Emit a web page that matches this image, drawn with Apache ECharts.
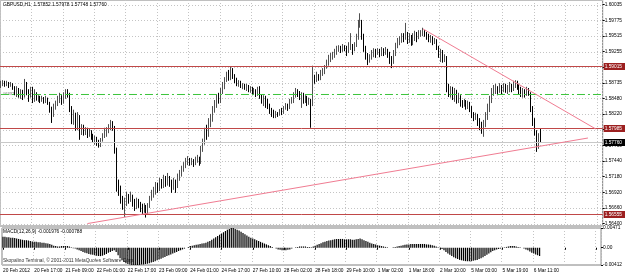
<!DOCTYPE html>
<html>
<head>
<meta charset="utf-8">
<script src="https://cdn.jsdelivr.net/npm/echarts@6/dist/echarts.min.js"></script>
<style>
html, body { margin: 0; padding: 0; background: #fff; }
#chart { width: 625px; height: 274px; }
</style>
</head>
<body>
<div id="chart"></div>
<script>
// GBPUSD H1, 20 Feb - 6 Mar 2012
const tickLabels = ['20 Feb 2012', '20 Feb 17:00', '21 Feb 09:00', '22 Feb 01:00', '22 Feb 17:00', '23 Feb 09:00',
  '24 Feb 01:00', '24 Feb 17:00', '27 Feb 10:00', '28 Feb 02:00', '28 Feb 18:00', '29 Feb 10:00',
  '1 Mar 02:00', '1 Mar 18:00', '2 Mar 10:00', '5 Mar 03:00', '5 Mar 19:00', '6 Mar 11:00'];

const firstOpen = 1.5870;
const closes = [
  1.5872, 1.5875, 1.5870, 1.5873, 1.5868, 1.5872, 1.5865, 1.5858, 1.5862, 1.5853,
  1.5857, 1.5850, 1.5868, 1.5858, 1.5852, 1.5862, 1.5844, 1.5855, 1.5847, 1.5850,
  1.5845, 1.5849, 1.5844, 1.5847, 1.5840, 1.5829, 1.5822, 1.5832, 1.5839, 1.5845,
  1.5850, 1.5844, 1.5853, 1.5858, 1.5857, 1.5832, 1.5812, 1.5819, 1.5799, 1.5815,
  1.5795, 1.5800, 1.5792, 1.5795, 1.5789, 1.5794, 1.5786, 1.5779, 1.5781, 1.5774,
  1.5771, 1.5779, 1.5786, 1.5789, 1.5795, 1.5799, 1.5805, 1.5799, 1.5762, 1.5704,
  1.5696, 1.5679, 1.5671, 1.5674, 1.5686, 1.5679, 1.5684, 1.5674, 1.5669, 1.5678,
  1.5673, 1.5666, 1.5663, 1.5668, 1.5659, 1.5669, 1.5681, 1.5688, 1.5693, 1.5703,
  1.5698, 1.5709, 1.5704, 1.5713, 1.5706, 1.5716, 1.5708, 1.5701, 1.5709, 1.5703,
  1.5716, 1.5723, 1.5729, 1.5736, 1.5742, 1.5746, 1.5741, 1.5744, 1.5739, 1.5746,
  1.5749, 1.5742, 1.5762, 1.5774, 1.5792, 1.5787, 1.5805, 1.5812, 1.5829, 1.5835,
  1.5849, 1.5844, 1.5858, 1.5868, 1.5878, 1.5885, 1.5882, 1.5892, 1.5887, 1.5878,
  1.5872, 1.5875, 1.5868, 1.5870, 1.5865, 1.5868, 1.5862, 1.5865, 1.5858, 1.5862,
  1.5855, 1.5860, 1.5852, 1.5845, 1.5849, 1.5840, 1.5837, 1.5829, 1.5822, 1.5819,
  1.5824, 1.5820, 1.5827, 1.5825, 1.5832, 1.5835, 1.5832, 1.5842, 1.5845, 1.5852,
  1.5860, 1.5855, 1.5850, 1.5853, 1.5845, 1.5849, 1.5840, 1.5844, 1.5839, 1.5882,
  1.5878, 1.5885, 1.5880, 1.5888, 1.5892, 1.5898, 1.5905, 1.5912, 1.5915, 1.5918,
  1.5923, 1.5928, 1.5931, 1.5926, 1.5933, 1.5930, 1.5925, 1.5931, 1.5936, 1.5928,
  1.5935, 1.5948, 1.5971, 1.5975, 1.5951, 1.5931, 1.5918, 1.5912, 1.5915, 1.5920,
  1.5925, 1.5921, 1.5926, 1.5923, 1.5928, 1.5923, 1.5926, 1.5921, 1.5912, 1.5908,
  1.5921, 1.5935, 1.5941, 1.5945, 1.5951, 1.5948, 1.5955, 1.5945, 1.5950, 1.5941,
  1.5948, 1.5953, 1.5950, 1.5955, 1.5956, 1.5960, 1.5955, 1.5951, 1.5948, 1.5950,
  1.5943, 1.5945, 1.5933, 1.5921, 1.5925, 1.5915, 1.5916, 1.5865, 1.5858, 1.5862,
  1.5852, 1.5855, 1.5847, 1.5850, 1.5842, 1.5839, 1.5842, 1.5835, 1.5840, 1.5832,
  1.5822, 1.5815, 1.5820, 1.5809, 1.5802, 1.5799, 1.5805, 1.5815, 1.5829, 1.5845,
  1.5858, 1.5862, 1.5865, 1.5860, 1.5867, 1.5863, 1.5868, 1.5862, 1.5865, 1.5868,
  1.5863, 1.5872, 1.5873, 1.5868, 1.5862, 1.5855, 1.5858, 1.5853, 1.5862, 1.5858,
  1.5832, 1.5812, 1.5792, 1.5769, 1.57852, 1.57760
];
const highs = [
  1.5877, 1.5878, 1.5877, 1.5877, 1.5875, 1.5875, 1.5873, 1.5868, 1.5868, 1.5865,
  1.5863, 1.5862, 1.5880, 1.5875, 1.5863, 1.5867, 1.5867, 1.5863, 1.5858, 1.5853,
  1.5852, 1.5852, 1.5850, 1.5852, 1.5849, 1.5842, 1.5834, 1.5839, 1.5844, 1.5852,
  1.5857, 1.5853, 1.5858, 1.5863, 1.5863, 1.5857, 1.5835, 1.5829, 1.5824, 1.5825,
  1.5820, 1.5805, 1.5804, 1.5800, 1.5799, 1.5797, 1.5795, 1.5789, 1.5786, 1.5784,
  1.5779, 1.5782, 1.5790, 1.5799, 1.5800, 1.5805, 1.5812, 1.5810, 1.5802, 1.5766,
  1.5713, 1.5703, 1.5686, 1.5683, 1.5693, 1.5689, 1.5693, 1.5688, 1.5681, 1.5683,
  1.5681, 1.5676, 1.5673, 1.5674, 1.5671, 1.5674, 1.5686, 1.5696, 1.5701, 1.5709,
  1.5708, 1.5716, 1.5714, 1.5721, 1.5719, 1.5724, 1.5719, 1.5713, 1.5716, 1.5713,
  1.5723, 1.5729, 1.5736, 1.5742, 1.5749, 1.5752, 1.5749, 1.5749, 1.5747, 1.5751,
  1.5754, 1.5751, 1.5769, 1.5781, 1.5799, 1.5804, 1.5815, 1.5822, 1.5835, 1.5845,
  1.5855, 1.5857, 1.5865, 1.5875, 1.5883, 1.5892, 1.5895, 1.5900, 1.5898, 1.5888,
  1.5882, 1.5878, 1.5877, 1.5873, 1.5872, 1.5872, 1.5870, 1.5868, 1.5867, 1.5865,
  1.5863, 1.5867, 1.5868, 1.5855, 1.5853, 1.5852, 1.5847, 1.5839, 1.5832, 1.5829,
  1.5827, 1.5825, 1.5830, 1.5832, 1.5835, 1.5840, 1.5839, 1.5847, 1.5850, 1.5858,
  1.5865, 1.5863, 1.5860, 1.5858, 1.5857, 1.5853, 1.5852, 1.5849, 1.5847, 1.5902,
  1.5887, 1.5892, 1.5888, 1.5895, 1.5898, 1.5903, 1.5912, 1.5920, 1.5923, 1.5925,
  1.5930, 1.5935, 1.5936, 1.5935, 1.5938, 1.5936, 1.5935, 1.5941, 1.5956, 1.5938,
  1.5941, 1.5955, 1.5978, 1.5989, 1.5978, 1.5955, 1.5935, 1.5923, 1.5921, 1.5928,
  1.5931, 1.5930, 1.5931, 1.5930, 1.5933, 1.5931, 1.5933, 1.5930, 1.5925, 1.5918,
  1.5928, 1.5940, 1.5948, 1.5951, 1.5956, 1.5956, 1.5973, 1.5958, 1.5956, 1.5953,
  1.5956, 1.5960, 1.5958, 1.5961, 1.5961, 1.5965, 1.5961, 1.5958, 1.5955, 1.5953,
  1.5951, 1.5948, 1.5946, 1.5935, 1.5930, 1.5928, 1.5921, 1.5918, 1.5872, 1.5868,
  1.5867, 1.5865, 1.5862, 1.5857, 1.5853, 1.5845, 1.5847, 1.5845, 1.5844, 1.5842,
  1.5835, 1.5825, 1.5824, 1.5822, 1.5815, 1.5809, 1.5812, 1.5825, 1.5839, 1.5852,
  1.5865, 1.5870, 1.5872, 1.5868, 1.5873, 1.5870, 1.5873, 1.5872, 1.5870, 1.5875,
  1.5872, 1.5877, 1.5878, 1.5877, 1.5872, 1.5867, 1.5865, 1.5863, 1.5867, 1.5865,
  1.5858, 1.5835, 1.5815, 1.5795, 1.5790, 1.57978
];
const lows = [
  1.5865, 1.5868, 1.5867, 1.5868, 1.5865, 1.5867, 1.5862, 1.5853, 1.5850, 1.5849,
  1.5847, 1.5845, 1.5849, 1.5853, 1.5842, 1.5849, 1.5840, 1.5842, 1.5844, 1.5842,
  1.5840, 1.5842, 1.5839, 1.5840, 1.5837, 1.5824, 1.5807, 1.5817, 1.5829, 1.5835,
  1.5840, 1.5837, 1.5839, 1.5847, 1.5849, 1.5825, 1.5805, 1.5804, 1.5794, 1.5795,
  1.5779, 1.5787, 1.5786, 1.5787, 1.5782, 1.5784, 1.5779, 1.5774, 1.5771, 1.5769,
  1.5766, 1.5767, 1.5776, 1.5782, 1.5784, 1.5790, 1.5795, 1.5794, 1.5756, 1.5693,
  1.5686, 1.5673, 1.5663, 1.5651, 1.5669, 1.5673, 1.5676, 1.5668, 1.5661, 1.5664,
  1.5666, 1.5659, 1.5656, 1.5658, 1.5650, 1.5655, 1.5666, 1.5678, 1.5683, 1.5688,
  1.5691, 1.5694, 1.5698, 1.5699, 1.5701, 1.5703, 1.5701, 1.5691, 1.5696, 1.5691,
  1.5699, 1.5711, 1.5718, 1.5726, 1.5732, 1.5737, 1.5736, 1.5737, 1.5734, 1.5737,
  1.5741, 1.5736, 1.5739, 1.5759, 1.5771, 1.5779, 1.5784, 1.5800, 1.5809, 1.5824,
  1.5832, 1.5839, 1.5840, 1.5855, 1.5863, 1.5875, 1.5877, 1.5878, 1.5880, 1.5873,
  1.5868, 1.5867, 1.5865, 1.5863, 1.5862, 1.5860, 1.5858, 1.5857, 1.5853, 1.5855,
  1.5850, 1.5852, 1.5847, 1.5839, 1.5835, 1.5832, 1.5830, 1.5822, 1.5817, 1.5815,
  1.5815, 1.5817, 1.5819, 1.5820, 1.5822, 1.5829, 1.5827, 1.5830, 1.5839, 1.5840,
  1.5849, 1.5850, 1.5845, 1.5832, 1.5839, 1.5840, 1.5835, 1.5837, 1.5799, 1.5835,
  1.5872, 1.5875, 1.5877, 1.5878, 1.5885, 1.5888, 1.5897, 1.5902, 1.5908, 1.5912,
  1.5915, 1.5920, 1.5925, 1.5923, 1.5925, 1.5926, 1.5918, 1.5923, 1.5928, 1.5920,
  1.5926, 1.5933, 1.5945, 1.5965, 1.5945, 1.5925, 1.5912, 1.5903, 1.5907, 1.5912,
  1.5916, 1.5915, 1.5920, 1.5916, 1.5918, 1.5918, 1.5920, 1.5915, 1.5905, 1.5898,
  1.5905, 1.5918, 1.5931, 1.5936, 1.5940, 1.5941, 1.5945, 1.5938, 1.5940, 1.5935,
  1.5936, 1.5943, 1.5941, 1.5946, 1.5950, 1.5951, 1.5950, 1.5945, 1.5941, 1.5940,
  1.5936, 1.5938, 1.5928, 1.5915, 1.5908, 1.5907, 1.5908, 1.5858, 1.5850, 1.5849,
  1.5845, 1.5842, 1.5839, 1.5840, 1.5834, 1.5832, 1.5834, 1.5829, 1.5830, 1.5825,
  1.5815, 1.5810, 1.5812, 1.5802, 1.5795, 1.5789, 1.5784, 1.5800, 1.5812, 1.5825,
  1.5840, 1.5852, 1.5855, 1.5853, 1.5857, 1.5855, 1.5858, 1.5857, 1.5855, 1.5858,
  1.5858, 1.5860, 1.5865, 1.5862, 1.5855, 1.5850, 1.5849, 1.5849, 1.5852, 1.5852,
  1.5825, 1.5802, 1.5786, 1.5759, 1.5764, 1.57748
];

// MACD(12,26,9) histogram
const macdHist = [
  0.0026, 0.0026, 0.0025, 0.0025, 0.0024, 0.0024, 0.0023,
  0.0022, 0.0021, 0.0020, 0.0019, 0.0018, 0.0018, 0.0017,
  0.0016, 0.0015, 0.0014, 0.0014, 0.0013, 0.0013, 0.0012, 0.0012,
  0.0011, 0.0010, 0.0009, 0.0007, 0.0005,
  0.0004,
  0.0003, 0.0003, 0.0004, 0.0004, 0.0004,
  0.0004, 0.0003,
  0.0001, -0.0001, -0.0002, -0.0004,
  -0.0006, -0.0008, -0.0010, -0.0012, -0.0013, -0.0015, -0.0016, -0.0017, -0.0018, -0.0019, -0.0020, -0.0020,
  -0.0019, -0.0017, -0.0015, -0.0012, -0.0010, -0.0008, -0.0006,
  -0.0010, -0.0018, -0.0025, -0.0030, -0.0034, -0.0037, -0.0039, -0.0040, -0.0041, -0.0041,
  -0.0041, -0.0041, -0.0041, -0.0040, -0.0040, -0.0039, -0.0038, -0.0037, -0.0035, -0.0034,
  -0.0032, -0.0030, -0.0028, -0.0026, -0.0024, -0.0022, -0.0020, -0.0018, -0.0016, -0.0014, -0.0012, -0.0010,
  -0.0008, -0.0006, -0.0004, -0.0002, 0.0000,
  0.0002, 0.0004, 0.0005, 0.0006, 0.0007, 0.0008, 0.0009, 0.0010, 0.0011, 0.0012, 0.0014, 0.0016,
  0.0019, 0.0022, 0.0025, 0.0028, 0.0031, 0.0034, 0.0037, 0.0040, 0.0043, 0.0045, 0.0047,
  0.0047, 0.0045, 0.0043, 0.0041, 0.0038, 0.0035, 0.0032, 0.0029, 0.0026,
  0.0024, 0.0022, 0.0020, 0.0018, 0.0016, 0.0014, 0.0012, 0.0010, 0.0008, 0.0006, 0.0004, 0.0002, 0.0000, -0.0002,
  -0.0004, -0.0005, -0.0006, -0.0006, -0.0006, -0.0005, -0.0004, -0.0002,
  0.0000, 0.0001, 0.0002, 0.0003, 0.0003, 0.0003, 0.0003, 0.0002, 0.0002, 0.0001,
  0.0003, 0.0005, 0.0007, 0.0009, 0.0011, 0.0013, 0.0014, 0.0016, 0.0017, 0.0018, 0.0019, 0.0020, 0.0021,
  0.0021, 0.0021, 0.0021, 0.0020, 0.0020, 0.0020, 0.0020, 0.0019, 0.0019, 0.0020, 0.0021, 0.0022,
  0.0020, 0.0018, 0.0016, 0.0014, 0.0012, 0.0010, 0.0009,
  0.0008, 0.0006, 0.0005, 0.0004, 0.0003, 0.0002, 0.0001, 0.0000, 0.0000, 0.0001, 0.0002,
  0.0003, 0.0004, 0.0005, 0.0006, 0.0007, 0.0008, 0.0008, 0.0009, 0.0009, 0.0009, 0.0009,
  0.0009, 0.0009, 0.0009, 0.0009, 0.0008, 0.0008, 0.0007, 0.0006, 0.0005,
  0.0003, 0.0001, -0.0001,
  -0.0003, -0.0006, -0.0010, -0.0014, -0.0017, -0.0020, -0.0023, -0.0025, -0.0027, -0.0029, -0.0030, -0.0031, -0.0032, -0.0032, -0.0032,
  -0.0032, -0.0031, -0.0030, -0.0029, -0.0027, -0.0025, -0.0023, -0.0020, -0.0017, -0.0014, -0.0011, -0.0008,
  -0.0006, -0.0004, -0.0003, -0.0002, -0.0001,
  0.0001, 0.0002, 0.0003, 0.0004, 0.0004, 0.0004, 0.0003, 0.0002,
  0.0001, 0.0000, -0.0002, -0.0004, -0.0006,
  -0.0009, -0.0012, -0.0014, -0.0016, -0.0018, -0.001976
];

const yTicks = [1.60035, 1.59775, 1.59515, 1.59255, 1.58995, 1.58735, 1.58480, 1.58220,
  1.57960, 1.57700, 1.57440, 1.57180, 1.56920, 1.56660, 1.56400];
const macdTicks = [0.00471, 0, -0.00412];
const redLevels = [1.59015, 1.57985, 1.56555];
const greenLevel = 1.58542;
const lastPrice = 1.57760;
const trendUpper = [[215, 1.5963], [303, 1.5797]];
const trendLower = [[44, 1.5640], [299, 1.5782]];
const slotCount = 307; // bars + empty chart shift on the right

const font = 'Liberation Sans, Arial, sans-serif';
const fs = 4.8;

const opens = [firstOpen].concat(closes.slice(0, -1));
const candles = closes.map((c, i) => [opens[i], c, lows[i], highs[i]]);

const xCats = [];
for (let i = 0; i < slotCount; i++) {
  xCats.push(i % 16 === 0 && tickLabels[i / 16] ? tickLabels[i / 16] : '');
}
const every16 = (i) => i % 16 === 0;
const gridLine = { color: '#c4c4c4', type: [1, 2], width: 1 };

// red levels and the last price get a box on the price scale
const levelValues = redLevels.concat([lastPrice]);
const levelKinds = redLevels.map(() => 'red').concat(['last']);
const levelLook = {
  red: { stroke: '#c04848', box: '#9c2020' },
  last: { stroke: '#c8c8c8', box: '#000000' }
};

function hLine(cs, y, stroke, dash) {
  return {
    type: 'line',
    shape: { x1: cs.x, y1: y, x2: cs.x + cs.width, y2: y },
    style: { stroke: stroke, fill: null, lineWidth: 1, lineDash: dash }
  };
}

const chart = echarts.init(document.getElementById('chart'));

const option = {
  animation: false,
  backgroundColor: '#ffffff',
  textStyle: { fontFamily: font },
  graphic: [
    { type: 'text', left: 3, top: 2, z: 10,
      style: { text: 'GBPUSD,H1  1.57852 1.57978 1.57748 1.57760', fontSize: fs, fontFamily: font, fill: '#000' } },
    { type: 'text', left: 3, top: 92, z: 0,
      style: { text: '#6332', fontSize: 4, fontFamily: font, fill: '#666' } },
    { type: 'text', left: 3, top: 229, z: 10,
      style: { text: 'MACD(12,26,9) -0.001976 -0.000788', fontSize: fs, fontFamily: font, fill: '#000' } },
    { type: 'text', left: 3, top: 258, z: 0,
      style: { text: 'Skopalino Terminal, \u00a9 2001-2011 MetaQuotes Software Corp.', fontSize: fs, fontFamily: font, fill: '#333' } }
  ],
  grid: [
    { left: 0, top: 0, width: 606, height: 226, show: true, borderColor: '#808080', borderWidth: 1 },
    { left: 0, top: 228, width: 606, height: 37, show: true, borderColor: '#808080', borderWidth: 1 }
  ],
  xAxis: [
    {
      type: 'category', gridIndex: 0, data: xCats, boundaryGap: true,
      axisLine: { show: false }, axisTick: { show: false }, axisLabel: { show: false },
      splitLine: { show: true, interval: every16, lineStyle: gridLine }
    },
    {
      type: 'category', gridIndex: 1, data: xCats, boundaryGap: true,
      axisLine: { show: false },
      axisTick: { show: true, interval: every16, alignWithLabel: true, length: 2, lineStyle: { color: '#000' } },
      axisLabel: { show: true, interval: every16, align: 'left', margin: 3, fontSize: fs, color: '#000' },
      splitLine: { show: true, interval: every16, lineStyle: gridLine }
    }
  ],
  yAxis: [
    {
      type: 'value', gridIndex: 0, position: 'right', min: 1.5636, max: 1.6011,
      axisLine: { show: false },
      axisTick: { show: true, length: 2, customValues: yTicks, lineStyle: { color: '#000' } },
      axisLabel: { show: true, customValues: yTicks, formatter: (v) => v.toFixed(5), fontSize: fs, margin: 2, color: '#000' },
      splitLine: { show: false }
    },
    {
      type: 'value', gridIndex: 1, position: 'right', min: -0.00412, max: 0.00471,
      axisLine: { show: false },
      axisTick: { show: true, length: 2, customValues: macdTicks, lineStyle: { color: '#000' } },
      axisLabel: { show: true, customValues: macdTicks, formatter: (v) => (v === 0 ? '0.00' : v.toFixed(5)), fontSize: fs, margin: 2, color: '#000' },
      splitLine: { show: false }
    }
  ],
  series: [
    {
      // dotted horizontal price grid
      type: 'custom', xAxisIndex: 0, yAxisIndex: 0, z: 1, silent: true,
      data: yTicks.map((v) => [0, v]),
      renderItem: (params, api) => {
        const y = Math.round(api.coord([0, api.value(1)])[1]) + 0.5;
        return hLine(params.coordSys, y, '#c4c4c4', [1, 2]);
      }
    },
    {
      type: 'candlestick', xAxisIndex: 0, yAxisIndex: 0, data: candles, barWidth: 1, z: 3,
      itemStyle: { color: '#a8a8a8', color0: '#000000', borderColor: '#505050', borderColor0: '#000000', borderWidth: 1 }
    },
    {
      // green dash-dot level
      type: 'line', xAxisIndex: 0, yAxisIndex: 0, z: 5, symbol: 'none', silent: true,
      data: [[0, greenLevel], [slotCount - 1, greenLevel]],
      lineStyle: { color: '#3cc43c', width: 1, type: [8, 3, 2, 3] }
    },
    {
      // support / resistance levels with price boxes on the scale
      type: 'custom', xAxisIndex: 0, yAxisIndex: 0, z: 5, silent: true,
      data: levelValues.map((v) => [0, v]),
      renderItem: (params, api) => {
        const cs = params.coordSys;
        const v = api.value(1);
        const y = Math.round(api.coord([0, v])[1]) + 0.5;
        const look = levelLook[levelKinds[params.dataIndex]];
        return {
          type: 'group',
          children: [
            hLine(cs, y, look.stroke, null),
            {
              type: 'text', x: cs.x + cs.width + 1, y: y,
              style: {
                text: v.toFixed(5), fill: '#fff', backgroundColor: look.box, padding: [1, 4, 1, 1],
                fontSize: fs, fontFamily: font, align: 'left', verticalAlign: 'middle'
              }
            }
          ]
        };
      }
    },
    {
      type: 'line', xAxisIndex: 0, yAxisIndex: 0, data: trendUpper, z: 6, symbol: 'none', silent: true,
      lineStyle: { color: '#f07c92', width: 1 }
    },
    {
      type: 'line', xAxisIndex: 0, yAxisIndex: 0, data: trendLower, z: 6, symbol: 'none', silent: true,
      lineStyle: { color: '#f07c92', width: 1 }
    },
    {
      type: 'bar', xAxisIndex: 1, yAxisIndex: 1, data: macdHist, barWidth: 1.2, z: 3,
      itemStyle: { color: '#000' }
    }
  ]
};

chart.setOption(option);
</script>
</body>
</html>
